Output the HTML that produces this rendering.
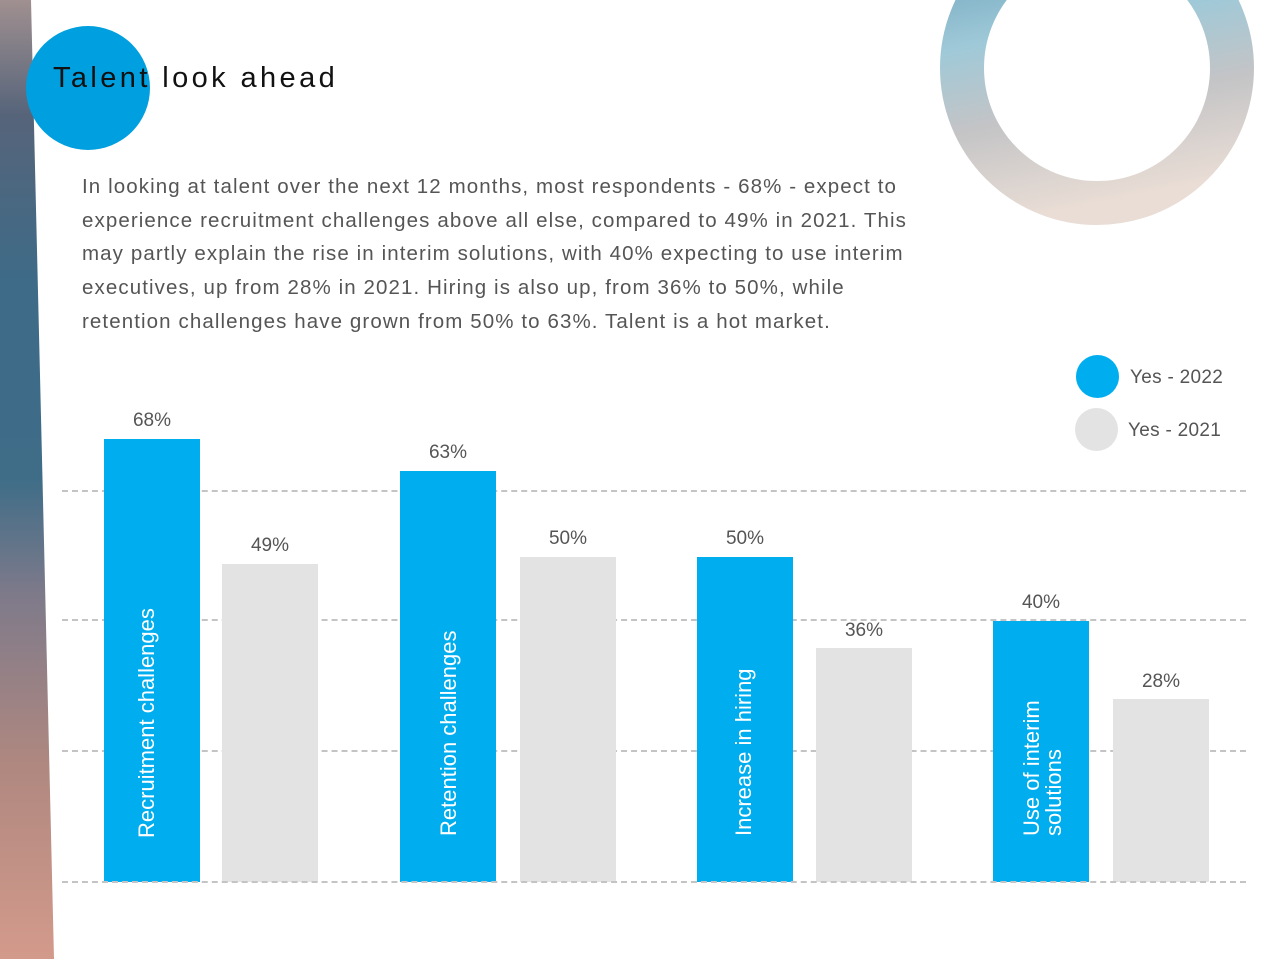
<!DOCTYPE html>
<html><head><meta charset="utf-8"><style>
body{margin:0;width:1280px;height:959px;position:relative;overflow:hidden;background:#fff;font-family:"Liberation Sans",sans-serif}
.a{position:absolute}
.lbl{position:absolute;font-size:19px;color:#555;text-align:center;width:96px}
.bar{position:absolute;bottom:77px;width:96px}
.b{background:#00aeef}.g{background:#e3e3e3}
.rot{position:absolute;color:#fff;font-size:22px;transform:rotate(-90deg);transform-origin:left top;white-space:nowrap;line-height:22px}
.grid{position:absolute;left:62px;width:1184px;border-top:2px dashed #c4c4c4;height:0}
</style></head><body>
<svg class="a" style="left:0;top:0" width="1280" height="959">
<defs>
<linearGradient id="sky" x1="0" y1="0" x2="0" y2="1">
<stop offset="0" stop-color="#a09090"/><stop offset="0.12" stop-color="#56647a"/><stop offset="0.3" stop-color="#3d6b88"/><stop offset="0.5" stop-color="#3f6d88"/><stop offset="0.62" stop-color="#7e7a8a"/><stop offset="0.8" stop-color="#b08880"/><stop offset="1" stop-color="#d39a8b"/></linearGradient>
<linearGradient id="ring" x1="0.3" y1="0" x2="0.5" y2="1">
<stop offset="0" stop-color="#6fa5bd"/><stop offset="0.35" stop-color="#9fc9d8"/><stop offset="0.65" stop-color="#c4c4c6"/><stop offset="1" stop-color="#e9ddd5"/></linearGradient>
</defs>
<polygon points="0,0 31,0 54,959 0,959" fill="url(#sky)"/>
<circle cx="1097" cy="68" r="135" fill="none" stroke="url(#ring)" stroke-width="44"/>
<circle cx="88" cy="88" r="62" fill="#009fe0"/>
</svg>
<div class="a" style="left:53px;top:62px;font-size:29px;letter-spacing:3.4px;color:#111">Talent look ahead</div>
<div class="a" style="left:82px;top:170px;white-space:nowrap;font-size:20.5px;letter-spacing:1.1px;line-height:33.7px;color:#555">In looking at talent over the next 12 months, most respondents - 68% - expect to<br>experience recruitment challenges above all else, compared to 49% in 2021. This<br>may partly explain the rise in interim solutions, with 40% expecting to use interim<br>executives, up from 28% in 2021. Hiring is also up, from 36% to 50%, while<br>retention challenges have grown from 50% to 63%. Talent is a hot market.</div>
<div class="a" style="left:1076px;top:355px;width:43px;height:43px;border-radius:50%;background:#00aeef"></div>
<div class="a" style="left:1075px;top:408px;width:43px;height:43px;border-radius:50%;background:#e3e3e3"></div>
<div class="a" style="left:1130px;top:367px;font-size:19px;color:#555;letter-spacing:0.3px">Yes - 2022</div>
<div class="a" style="left:1128px;top:420px;font-size:19px;color:#555;letter-spacing:0.3px">Yes - 2021</div>
<div class="grid" style="top:490px"></div>
<div class="grid" style="top:619px"></div>
<div class="grid" style="top:750px"></div>
<div class="bar b" style="left:104px;height:443px"></div>
<div class="bar g" style="left:222px;height:318px"></div>
<div class="bar b" style="left:400px;height:411px"></div>
<div class="bar g" style="left:520px;height:325px"></div>
<div class="bar b" style="left:697px;height:325px"></div>
<div class="bar g" style="left:816px;height:234px"></div>
<div class="bar b" style="left:993px;height:261px"></div>
<div class="bar g" style="left:1113px;height:183px"></div>
<div class="grid" style="top:881px"></div>
<div class="lbl" style="left:104px;top:410px">68%</div>
<div class="lbl" style="left:222px;top:535px">49%</div>
<div class="lbl" style="left:400px;top:442px">63%</div>
<div class="lbl" style="left:520px;top:528px">50%</div>
<div class="lbl" style="left:697px;top:528px">50%</div>
<div class="lbl" style="left:816px;top:620px">36%</div>
<div class="lbl" style="left:993px;top:592px">40%</div>
<div class="lbl" style="left:1113px;top:671px">28%</div>
<div class="rot" style="left:136px;top:838px">Recruitment challenges</div>
<div class="rot" style="left:438px;top:836px">Retention challenges</div>
<div class="rot" style="left:733px;top:836px">Increase in hiring</div>
<div class="rot" style="left:1021px;top:836px">Use of interim<br>solutions</div>
</body></html>
